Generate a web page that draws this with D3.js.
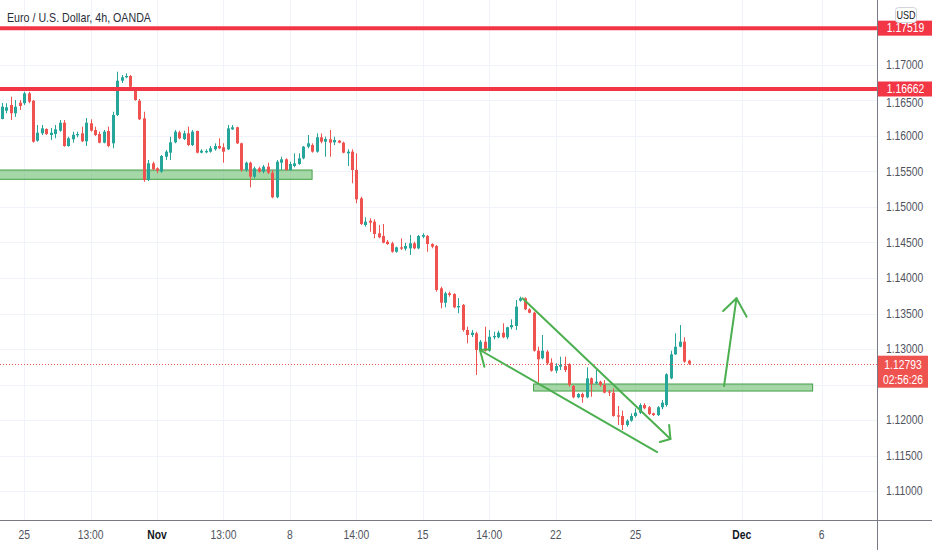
<!DOCTYPE html>
<html><head><meta charset="utf-8">
<script src="https://cdn.jsdelivr.net/npm/d3@7"></script>
<style>
html,body{margin:0;padding:0;background:#fff;}
svg{display:block;font-family:"Liberation Sans Narrow","Liberation Sans",Arial,sans-serif;}
</style></head>
<body><svg id="c" width="932" height="550"></svg>
<script>
// ---- data ----
const title = "Euro / U.S. Dollar, 4h, OANDA";
const currency = "USD";
const openP = [1.16239,1.16356,1.16437,1.16320,1.16469,1.16461,1.16601,1.16497,1.15934,1.16038,1.16099,1.16014,1.16028,1.16075,1.16187,1.15859,1.15954,1.16010,1.16038,1.15925,1.16179,1.16085,1.16028,1.15906,1.16070,1.15897,1.16296,1.16779,1.16827,1.16845,1.16648,1.16497,1.16249,1.15380,1.15615,1.15545,1.15497,1.15708,1.15765,1.15911,1.16052,1.15958,1.16038,1.15873,1.16070,1.15765,1.15770,1.15779,1.15813,1.15859,1.15841,1.15813,1.16094,1.16123,1.15897,1.15521,1.15624,1.15427,1.15545,1.15497,1.15568,1.15483,1.15137,1.15624,1.15672,1.15521,1.15577,1.15606,1.15686,1.15849,1.15873,1.15779,1.15982,1.15920,1.15954,1.15911,1.15934,1.15906,1.15756,1.15779,1.15521,1.15123,1.14746,1.14807,1.14793,1.14630,1.14592,1.14511,1.14489,1.14370,1.14432,1.14413,1.14418,1.14489,1.14418,1.14582,1.14592,1.14479,1.14451,1.13855,1.13652,1.13785,1.13775,1.13587,1.13620,1.13268,1.13197,1.13221,1.12976,1.13103,1.12976,1.13165,1.13165,1.13230,1.13165,1.13306,1.13324,1.13680,1.13714,1.13559,1.13511,1.12976,1.12869,1.12962,1.12807,1.12694,1.12751,1.12761,1.12789,1.12479,1.12320,1.12366,1.12320,1.12587,1.12517,1.12539,1.12493,1.12399,1.12385,1.12066,1.12056,1.11930,1.11990,1.12056,1.12103,1.12211,1.12179,1.12094,1.12070,1.12179,1.12211,1.12587,1.12925,1.13032,1.13103,1.12835];
const highP = [1.16465,1.16461,1.16554,1.16507,1.16507,1.16624,1.16624,1.16507,1.16155,1.16155,1.16108,1.16113,1.16155,1.16225,1.16225,1.15990,1.16061,1.16061,1.16131,1.16254,1.16235,1.16131,1.16061,1.16085,1.16131,1.16342,1.16906,1.16859,1.16883,1.16859,1.16672,1.16521,1.16342,1.15662,1.15638,1.15559,1.15732,1.15803,1.15990,1.16085,1.16075,1.16075,1.16131,1.16085,1.16075,1.15813,1.15813,1.15859,1.15897,1.15968,1.15897,1.16155,1.16155,1.16131,1.15906,1.15638,1.15638,1.15568,1.15568,1.15592,1.15624,1.15521,1.15662,1.15708,1.15686,1.15638,1.15756,1.15756,1.15859,1.16014,1.15897,1.16038,1.16038,1.15990,1.16085,1.15990,1.15944,1.15920,1.15813,1.15813,1.15756,1.15145,1.14855,1.14841,1.14827,1.14746,1.14761,1.14535,1.14511,1.14441,1.14559,1.14497,1.14606,1.14511,1.14606,1.14630,1.14606,1.14489,1.14465,1.13877,1.13807,1.13807,1.13785,1.13718,1.13634,1.13314,1.13268,1.13244,1.13127,1.13314,1.13268,1.13244,1.13258,1.13362,1.13314,1.13418,1.13690,1.13737,1.13728,1.13573,1.13525,1.13032,1.13197,1.12986,1.12869,1.12799,1.12892,1.12892,1.12799,1.12493,1.12380,1.12385,1.12742,1.12601,1.12704,1.12553,1.12563,1.12423,1.12447,1.12197,1.12131,1.12010,1.12094,1.12165,1.12235,1.12235,1.12197,1.12103,1.12197,1.12282,1.12658,1.12976,1.13221,1.13338,1.13165,1.12849];
const lowP = [1.16235,1.16320,1.16225,1.16268,1.16366,1.16437,1.16461,1.15906,1.15920,1.16014,1.16014,1.15944,1.15968,1.16061,1.15849,1.15849,1.15906,1.15982,1.15916,1.15859,1.16061,1.16000,1.15897,1.15897,1.15841,1.15827,1.16282,1.16746,1.16813,1.16672,1.16497,1.16225,1.15356,1.15366,1.15521,1.15475,1.15483,1.15662,1.15662,1.15897,1.15954,1.15944,1.15859,1.15859,1.15756,1.15756,1.15756,1.15765,1.15793,1.15813,1.15624,1.15803,1.16085,1.15887,1.15497,1.15497,1.15277,1.15404,1.15483,1.15475,1.15465,1.15123,1.15123,1.15521,1.15511,1.15511,1.15559,1.15592,1.15672,1.15827,1.15765,1.15765,1.15897,1.15708,1.15708,1.15873,1.15897,1.15756,1.15577,1.15334,1.15052,1.14746,1.14723,1.14652,1.14559,1.14559,1.14489,1.14465,1.14356,1.14356,1.14394,1.14385,1.14324,1.14404,1.14404,1.14559,1.14370,1.14418,1.13807,1.13573,1.13587,1.13737,1.13573,1.13503,1.13244,1.13080,1.13169,1.12634,1.12962,1.12962,1.12962,1.13137,1.13151,1.13151,1.13137,1.13277,1.13268,1.13666,1.13549,1.13503,1.12962,1.12525,1.12855,1.12775,1.12680,1.12658,1.12704,1.12676,1.12469,1.12306,1.12306,1.12244,1.12306,1.12328,1.12507,1.12469,1.12376,1.12338,1.12047,1.11930,1.11859,1.11906,1.11976,1.12038,1.12085,1.12151,1.12070,1.12056,1.12056,1.12151,1.12187,1.12573,1.12915,1.13024,1.12807,1.12775];
const closeP = [1.16413,1.16404,1.16320,1.16413,1.16423,1.16601,1.16483,1.15920,1.16046,1.16108,1.16028,1.16046,1.16094,1.16187,1.15859,1.15968,1.16018,1.16028,1.15925,1.16187,1.16075,1.16014,1.15906,1.16061,1.15859,1.16296,1.16779,1.16827,1.16845,1.16694,1.16507,1.16235,1.15380,1.15615,1.15531,1.15511,1.15718,1.15779,1.15911,1.16061,1.15968,1.16038,1.15873,1.16061,1.15765,1.15793,1.15789,1.15827,1.15859,1.15827,1.15779,1.16108,1.16123,1.15897,1.15521,1.15624,1.15427,1.15545,1.15497,1.15568,1.15483,1.15137,1.15638,1.15672,1.15521,1.15606,1.15615,1.15686,1.15849,1.15897,1.15779,1.15982,1.15920,1.15958,1.15906,1.15944,1.15906,1.15765,1.15779,1.15521,1.15108,1.14761,1.14793,1.14779,1.14620,1.14573,1.14497,1.14479,1.14370,1.14432,1.14413,1.14451,1.14489,1.14418,1.14592,1.14606,1.14479,1.14441,1.13831,1.13652,1.13785,1.13761,1.13587,1.13606,1.13268,1.13197,1.13230,1.12986,1.13103,1.12976,1.13173,1.13183,1.13230,1.13165,1.13306,1.13338,1.13596,1.13714,1.13559,1.13511,1.12976,1.12855,1.12976,1.12799,1.12694,1.12761,1.12775,1.12704,1.12493,1.12320,1.12366,1.12320,1.12587,1.12507,1.12539,1.12493,1.12385,1.12385,1.12056,1.12047,1.11930,1.11990,1.12056,1.12103,1.12211,1.12165,1.12085,1.12070,1.12179,1.12244,1.12644,1.12925,1.13032,1.13103,1.12821,1.12793];
const timeTickBars = [5,20,35,50,65,80,95,110,125,143,167,185];
const timeTickLabels = ["25","13:00","Nov","13:00","8","14:00","15","14:00","22","25","Dec","6"];
const monthLabels = ["Nov","Dec"];
const gridPrices = [1.110,1.115,1.120,1.125,1.130,1.135,1.140,1.145,1.150,1.155,1.160,1.165,1.170,1.175];
const priceLabels = [1.110,1.115,1.120,1.130,1.135,1.140,1.145,1.150,1.155,1.160,1.165,1.170];
const levelLines = [1.17519, 1.16662];
const lastPrice = 1.12793;
const countdown = "02:56:26";
// zones: [startBar, endBar, lowPrice, highPrice]
const zones = [[-1, 70, 1.15390, 1.15521],[120, 183, 1.12408, 1.12507]];
// green drawings: polylines of [bar, price]
const drawings = [
  [[117.5,1.13714],[150.9,1.11732]],
  [[150.6,1.11930],[150.9,1.11732],[148.5,1.11690]],
  [[107.9,1.12986],[147.9,1.11549]],
  [[108.9,1.12751],[107.9,1.12986],[110.2,1.12996]],
  [[163.0,1.12479],[165.8,1.13714]],
  [[162.8,1.13535],[165.8,1.13714],[168.1,1.13455]]
];

// ---- layout ----
const W = 932, H = 550, plotR = 877, plotB = 520;
const svg = d3.select("#c");
const x = d3.scaleLinear().domain([0,185]).range([2, 821.5]);
const y = d3.scaleLinear().domain([1.11,1.17]).range([491,65]);
const UP = "#26a69a", DOWN = "#ef5350", RED = "#f23645", GREEN = "#4caf50";

svg.append("defs").append("clipPath").attr("id","pc")
  .append("rect").attr("x",0).attr("y",0).attr("width",plotR).attr("height",plotB);

// grid
const grid = svg.append("g").attr("clip-path","url(#pc)");
grid.selectAll("line.h").data(gridPrices).join("line")
  .attr("x1",0).attr("x2",plotR)
  .attr("y1",d=>Math.round(y(d))+0.5).attr("y2",d=>Math.round(y(d))+0.5)
  .attr("stroke","#f0f3fa").attr("stroke-width",1);
grid.selectAll("line.v").data(timeTickBars).join("line")
  .attr("y1",0).attr("y2",plotB)
  .attr("x1",d=>Math.round(x(d))+0.5).attr("x2",d=>Math.round(x(d))+0.5)
  .attr("stroke","#f0f3fa").attr("stroke-width",1);

const plot = svg.append("g").attr("clip-path","url(#pc)");

// zones
plot.selectAll("rect.zone").data(zones).join("rect")
  .attr("x",d=>x(d[0])).attr("width",d=>x(d[1])-x(d[0]))
  .attr("y",d=>y(d[3])).attr("height",d=>y(d[2])-y(d[3]))
  .attr("fill","rgba(76,175,80,0.5)").attr("stroke","#43a047").attr("stroke-width",1);

// candles
const bars = d3.range(openP.length).map(i=>({i,o:openP[i],h:highP[i],l:lowP[i],c:closeP[i]}));
const cg = plot.append("g");
cg.selectAll("line.wick").data(bars).join("line")
  .attr("x1",d=>Math.round(x(d.i))+0.5).attr("x2",d=>Math.round(x(d.i))+0.5)
  .attr("y1",d=>y(d.h)).attr("y2",d=>y(d.l))
  .attr("stroke",d=>d.c>=d.o?UP:DOWN).attr("stroke-width",1);
cg.selectAll("rect.body").data(bars).join("rect")
  .attr("x",d=>Math.round(x(d.i))-1).attr("width",3)
  .attr("y",d=>y(Math.max(d.o,d.c)))
  .attr("height",d=>Math.max(1,Math.abs(y(d.o)-y(d.c))))
  .attr("fill",d=>d.c>=d.o?UP:DOWN);

// last price dotted line
plot.append("line").attr("x1",0).attr("x2",plotR)
  .attr("y1",Math.round(y(lastPrice))+0.5).attr("y2",Math.round(y(lastPrice))+0.5)
  .attr("stroke",DOWN).attr("stroke-width",1).attr("stroke-dasharray","1,2");

// level lines
plot.selectAll("line.lvl").data(levelLines).join("line")
  .attr("x1",0).attr("x2",plotR).attr("y1",d=>y(d)).attr("y2",d=>y(d))
  .attr("stroke",RED).attr("stroke-width",4);

// green drawings
const lineGen = d3.line().x(d=>x(d[0])).y(d=>y(d[1]));
plot.selectAll("path.dr").data(drawings).join("path")
  .attr("d",lineGen).attr("fill","none").attr("stroke",GREEN)
  .attr("stroke-width",2).attr("stroke-linecap","round").attr("stroke-linejoin","round");

// axes lines
svg.append("line").attr("x1",0).attr("x2",W).attr("y1",plotB+0.5).attr("y2",plotB+0.5).attr("stroke","#787b86");
svg.append("line").attr("x1",plotR+0.5).attr("x2",plotR+0.5).attr("y1",0).attr("y2",H).attr("stroke","#787b86");

// price axis labels (1.16500 partly under the level tag, as in the reference)
svg.append("g").selectAll("text").data(priceLabels).join("text")
  .attr("class","nar").attr("data-k",0.86)
  .attr("x",plotR+9).attr("y",d=>y(d)).attr("dy",d=>d===1.165?"0.55em":"0.35em")
  .attr("font-size",12).attr("fill","#50535e").text(d=>d.toFixed(5));

// time axis labels
svg.append("g").selectAll("text").data(timeTickBars).join("text")
  .attr("class","nar").attr("data-k",0.86)
  .attr("x",d=>x(d)).attr("y",535).attr("dy","0.35em").attr("text-anchor","middle")
  .attr("font-size",12)
  .attr("fill",(d,i)=>monthLabels.includes(timeTickLabels[i])?"#131722":"#50535e")
  .attr("font-weight",(d,i)=>monthLabels.includes(timeTickLabels[i])?"bold":"normal")
  .text((d,i)=>timeTickLabels[i]);

// level labels
const lg = svg.append("g").selectAll("g").data(levelLines).join("g");
lg.append("rect").attr("x",plotR+1).attr("width",W-plotR-1)
  .attr("y",d=>y(d)-7.5).attr("height",15).attr("fill",RED);
lg.append("text").attr("class","nar").attr("data-k",0.86)
  .attr("x",(plotR+W)/2+1).attr("y",d=>y(d)).attr("dy","0.35em")
  .attr("text-anchor","middle").attr("font-size",12).attr("fill","#fff").text(d=>d.toFixed(5));

// last price label
const ly = y(lastPrice);
svg.append("rect").attr("x",plotR+1).attr("width",50).attr("y",ly-8).attr("height",32).attr("fill",DOWN);
svg.append("text").attr("class","nar").attr("data-k",0.86)
  .attr("x",plotR+26).attr("y",ly+1).attr("dy","0.35em").attr("text-anchor","middle")
  .attr("font-size",12).attr("fill","#fff").text(lastPrice.toFixed(5));
svg.append("text").attr("class","nar").attr("data-k",0.86)
  .attr("x",plotR+26).attr("y",ly+16).attr("dy","0.35em").attr("text-anchor","middle")
  .attr("font-size",12).attr("fill","#fff").text(countdown);

// currency box
svg.append("rect").attr("x",895.5).attr("y",7.5).attr("width",21).attr("height",15).attr("rx",3)
  .attr("fill","#fff").attr("stroke","#d1d4dc");
svg.append("text").attr("class","nar").attr("data-k",0.86)
  .attr("x",906).attr("y",15).attr("dy","0.35em").attr("text-anchor","middle")
  .attr("font-size",10.5).attr("fill","#131722").text(currency);

// title
svg.append("text").attr("class","nar").attr("data-k",0.82)
  .attr("x",7).attr("y",17).attr("dy","0.35em")
  .attr("font-size",13).attr("fill","#2a2e39").text(title);

// condense text horizontally to mimic the narrow font of the reference
svg.selectAll("text.nar").each(function(){
  const el = this, k = +el.getAttribute("data-k");
  const len = el.getComputedTextLength();
  el.setAttribute("textLength", (len*k).toFixed(2));
  el.setAttribute("lengthAdjust","spacingAndGlyphs");
});
</script></body></html>
